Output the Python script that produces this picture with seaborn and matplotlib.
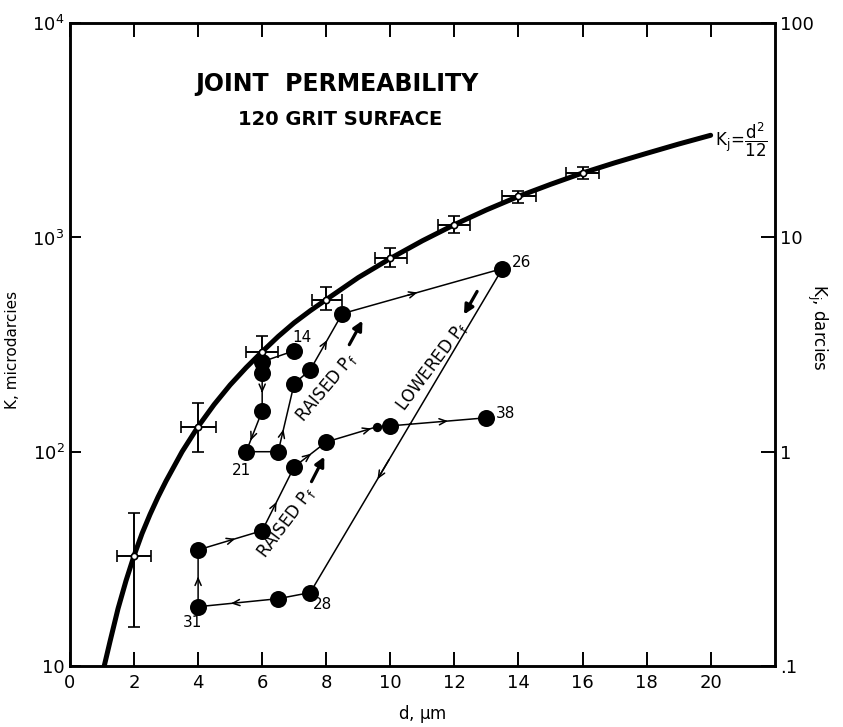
import numpy as np
import pandas as pd
import matplotlib
matplotlib.use("Agg")
import matplotlib.pyplot as plt
from matplotlib.ticker import NullLocator
import seaborn as sns

# curve K_j = d^2/12 (microdarcies)
curve_d = [1.07, 1.25, 1.5, 1.75, 2, 2.25, 2.5, 2.75, 3, 3.5, 4, 4.5, 5, 5.5, 6, 6.5, 7, 7.5, 8,
           9, 10, 11, 12, 13, 14, 15, 16, 17, 18, 19, 20]
curve_k = [10, 13, 18.5, 25, 32.7, 41.5, 51, 61.5, 73, 100, 131, 166, 205, 247, 293, 345, 400,
           455, 513, 650, 798, 965, 1148, 1345, 1555, 1770, 2000, 2230, 2470, 2730, 3000]

# calibration points with error crosses
cal_d = [2, 4, 6, 8, 10, 12, 14, 16]
cal_k = [32.7, 131, 293, 513, 798, 1148, 1555, 2000]
cal_k_lo = [15.2, 100, 255, 461, 725, 1055, 1456, 1883]
cal_k_hi = [51.9, 168, 345, 590, 889, 1254, 1640, 2140]
cal_d_lo = [1.46, 3.46, 5.48, 7.54, 9.53, 11.5, 13.5, 15.5]
cal_d_hi = [2.52, 4.55, 6.48, 8.5, 10.53, 12.5, 14.55, 16.5]

# test sequence (in order of measurement)
test_d = [7.0, 6.0, 6.0, 6.0, 5.5, 6.5, 7.0, 7.5, 8.5, 13.5, 7.5, 6.5, 4.0, 4.0, 6.0, 7.0, 8.0, 9.6, 10.0, 13.0]
test_k = [296, 263, 234, 155, 100, 100, 208, 241, 441, 716, 22, 20.6, 18.9, 34.8, 42.8, 85, 111, 131, 132, 144]
test_big = [True] * 17 + [False, True, True]
test_names = {0: "14", 4: "21", 9: "26", 10: "28", 12: "31", 19: "38"}
# segments carrying a direction arrow: (start index, fraction along segment)
arrow_segs = [(2, 0.5), (3, 0.7), (5, 0.3), (7, 0.5), (8, 0.44), (9, 0.62), (11, 0.56),
              (12, 0.5), (13, 0.55), (14, 0.42), (15, 0.5), (16, 0.85), (18, 0.57)]

sns.set_style("ticks")
plt.rcParams["font.family"] = ["DejaVu Sans"]
plt.rcParams["mathtext.default"] = "regular"
for key in ("text.color", "axes.labelcolor", "xtick.color", "ytick.color", "axes.edgecolor"):
    plt.rcParams[key] = "black"

fig, ax = plt.subplots(figsize=(8.43, 7.27), dpi=100)
fig.subplots_adjust(left=0.083, right=0.919, top=0.968, bottom=0.084)

ax.set_yscale("log")

curve = pd.DataFrame({"d": curve_d, "k": curve_k})
sns.lineplot(data=curve, x="d", y="k", color="black", lw=3.6, sort=False, estimator=None, ax=ax)

tests = pd.DataFrame({"d": test_d, "k": test_k, "big": test_big})
sns.lineplot(data=tests, x="d", y="k", color="black", lw=1.1, sort=False, estimator=None, ax=ax)
sns.scatterplot(data=tests[tests.big], x="d", y="k", color="black", s=150, edgecolor="black",
                linewidth=0, zorder=5, ax=ax)
sns.scatterplot(data=tests[~tests.big], x="d", y="k", color="black", s=45, edgecolor="black",
                linewidth=0, zorder=5, ax=ax)

cal_k_arr = np.array(cal_k)
cal_d_arr = np.array(cal_d)
yerr = [cal_k_arr - np.array(cal_k_lo), np.array(cal_k_hi) - cal_k_arr]
xerr = [cal_d_arr - np.array(cal_d_lo), np.array(cal_d_hi) - cal_d_arr]
ax.errorbar(cal_d, cal_k, yerr=yerr, xerr=xerr, fmt="o", ms=4.5, mfc="white", mec="black",
            mew=1.2, ecolor="black", elinewidth=1.4, capsize=4, capthick=1.4, zorder=6)

# small arrowheads along the test path
for i, t in arrow_segs:
    x0, y0, x1, y1 = test_d[i], test_k[i], test_d[i + 1], test_k[i + 1]
    ta, tb = t - 0.03, t + 0.03
    ax.annotate("", xy=(x0 + tb * (x1 - x0), y0 * (y1 / y0) ** tb),
                xytext=(x0 + ta * (x1 - x0), y0 * (y1 / y0) ** ta),
                arrowprops=dict(arrowstyle="->,head_length=0.5,head_width=0.22", lw=1.1,
                                color="black", shrinkA=0, shrinkB=0))

# test numbers
name_pos = {"14": (7.25, 341), "21": (5.36, 82), "26": (14.1, 764), "28": (7.88, 19.3),
            "31": (3.83, 15.9), "38": (13.6, 151)}
for idx, name in test_names.items():
    ax.text(*name_pos[name], name, fontsize=11, ha="center", va="center")

# pore pressure annotations
ax.text(6.76, 46.6, "RAISED P$_f$", fontsize=12, rotation=53, ha="center", va="center",
        rotation_mode="anchor")
ax.text(8.0, 200, "RAISED P$_f$", fontsize=12, rotation=50, ha="center", va="center",
        rotation_mode="anchor")
ax.text(11.3, 250, "LOWERED P$_f$", fontsize=12, rotation=53, ha="center", va="center",
        rotation_mode="anchor")
thick = dict(arrowstyle="-|>,head_length=0.55,head_width=0.28", lw=2.3, color="black",
             shrinkA=0, shrinkB=0)
ax.annotate("", xy=(7.94, 94.8), xytext=(7.54, 72.5), arrowprops=thick)
ax.annotate("", xy=(9.13, 409), xytext=(8.72, 316), arrowprops=thick)
ax.annotate("", xy=(12.3, 437), xytext=(12.71, 560), arrowprops=thick)

ax.text(20.15, 2870, r"$K_j\!=\!\dfrac{d^2}{12}$", fontsize=12, ha="left", va="center")

ax.text(0.379, 0.905, "JOINT  PERMEABILITY", transform=ax.transAxes, fontsize=17,
        fontweight="bold", ha="center", va="center")
ax.text(0.383, 0.851, "120 GRIT SURFACE", transform=ax.transAxes, fontsize=14,
        fontweight="bold", ha="center", va="center")

ax.set_xlim(0, 22)
ax.set_ylim(10, 1e4)
ax.set_xticks(range(0, 21, 2))
ax.set_xticklabels([str(v) for v in range(0, 21, 2)], fontsize=13)
ax.set_yticks([10, 100, 1000, 10000])
ax.set_yticklabels(["10", "$10^2$", "$10^3$", "$10^4$"], fontsize=13)
ax.yaxis.set_minor_locator(NullLocator())
ax.tick_params(axis="x", direction="in", length=10, width=1.4, top=True, pad=6)
ax.tick_params(axis="y", direction="in", length=8, width=1.4, pad=4)
ax.set_xlabel("d, $\\mu$m", fontsize=12, labelpad=8)
ax.set_ylabel("K, microdarcies", fontsize=11)
ax.yaxis.set_label_coords(-0.071, 0.491)

ax2 = ax.twinx()
ax2.set_yscale("log")
ax2.set_ylim(0.1, 100)
ax2.set_yticks([0.1, 1, 10, 100])
ax2.set_yticklabels([".1", "1", "10", "100"], fontsize=13)
ax2.yaxis.set_minor_locator(NullLocator())
ax2.tick_params(axis="y", direction="in", length=10, width=1.4, pad=4)
ax2.set_ylabel("K$_j$, darcies", fontsize=12, rotation=270, labelpad=18)
ax2.yaxis.set_label_coords(1.078, 0.526)

for a in (ax, ax2):
    for sp in a.spines.values():
        sp.set_linewidth(1.8)
        sp.set_color("black")

fig.savefig("out.png", dpi=100)
